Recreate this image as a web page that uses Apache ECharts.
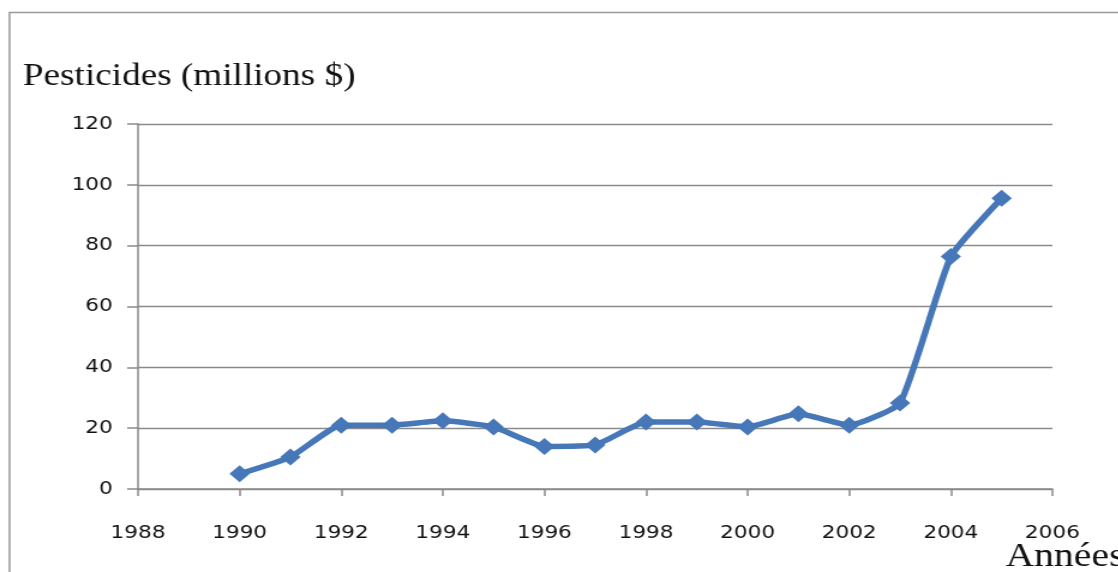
<!DOCTYPE html>
<html>
<head>
<meta charset="utf-8">
<script src="https://cdn.jsdelivr.net/npm/echarts@6/dist/echarts.min.js"></script>
<style>
  html, body { margin: 0; padding: 0; background: #ffffff; overflow: hidden; }
  /* the chart is laid out narrower, then widened to the full 1118px page */
  #chart { width: 932px; height: 572px; transform: scaleX(1.2); transform-origin: 0 0; }
</style>
</head>
<body>
<div id="chart"></div>
<script>
// Annual pesticide value, millions of dollars
const years = [1990, 1991, 1992, 1993, 1994, 1995, 1996, 1997, 1998, 1999, 2000, 2001, 2002, 2003, 2004, 2005];
const values = [5, 10.5, 21, 21, 22.4, 20.4, 14, 14.5, 22, 22, 20.4, 24.7, 21, 28.3, 76.4, 95.6];

const xTicks = [1988, 1990, 1992, 1994, 1996, 1998, 2000, 2002, 2004, 2006];
const yTicks = [0, 20, 40, 60, 80, 100, 120];

const yTitle = 'Pesticides (millions $)';
const xTitle = 'Années';

const points = years.map((y, i) => [y, values[i]]);

const chart = echarts.init(document.getElementById('chart'), null, { renderer: 'canvas' });

chart.setOption({
  backgroundColor: '#ffffff',
  animation: false,
  title: {
    text: yTitle,
    left: 14,
    top: 56,
    textStyle: {
      fontFamily: 'Liberation Serif',
      fontSize: 31,
      fontWeight: 'normal',
      color: '#111111'
    }
  },
  graphic: [
    {
      type: 'rect',
      shape: { x: 7.9, y: 12.5, width: 1200, height: 800 },
      style: { fill: 'none', stroke: '#9a9a9a', lineWidth: 1.5 },
      silent: true
    },
    {
      type: 'text',
      left: 838,
      top: 541,
      style: {
        text: xTitle,
        font: '33px "Liberation Serif"',
        fill: '#111111'
      }
    }
  ],
  grid: {
    left: 115,
    right: 55,
    top: 124,
    bottom: 83,
    containLabel: false
  },
  xAxis: {
    type: 'value',
    min: xTicks[0],
    max: xTicks[xTicks.length - 1],
    interval: 2,
    axisLine: { show: true, lineStyle: { color: '#8a8a8a', width: 1.5 } },
    axisTick: { show: true, length: 7, lineStyle: { color: '#8a8a8a', width: 1.5 } },
    splitLine: { show: false },
    axisLabel: {
      margin: 35,
      color: '#111111',
      fontFamily: 'DejaVu Sans',
      fontSize: 18,
      formatter: v => String(v)
    }
  },
  yAxis: {
    type: 'value',
    min: yTicks[0],
    max: yTicks[yTicks.length - 1],
    interval: 20,
    axisLine: { show: true, lineStyle: { color: '#8a8a8a', width: 1.5 } },
    axisTick: { show: true, inside: false, length: 9, lineStyle: { color: '#8a8a8a', width: 1.5 } },
    splitLine: { show: true, lineStyle: { color: '#8a8a8a', width: 1.3 } },
    axisLabel: {
      margin: 21,
      color: '#111111',
      fontFamily: 'DejaVu Sans',
      fontSize: 18
    }
  },
  series: [
    {
      type: 'line',
      data: points,
      smooth: 0.15,
      symbol: 'diamond',
      symbolSize: [17, 17],
      showSymbol: true,
      lineStyle: { color: '#4677b8', width: 5.5 },
      itemStyle: { color: '#4677b8', borderWidth: 0 },
      z: 3
    }
  ]
});
</script>
</body>
</html>
